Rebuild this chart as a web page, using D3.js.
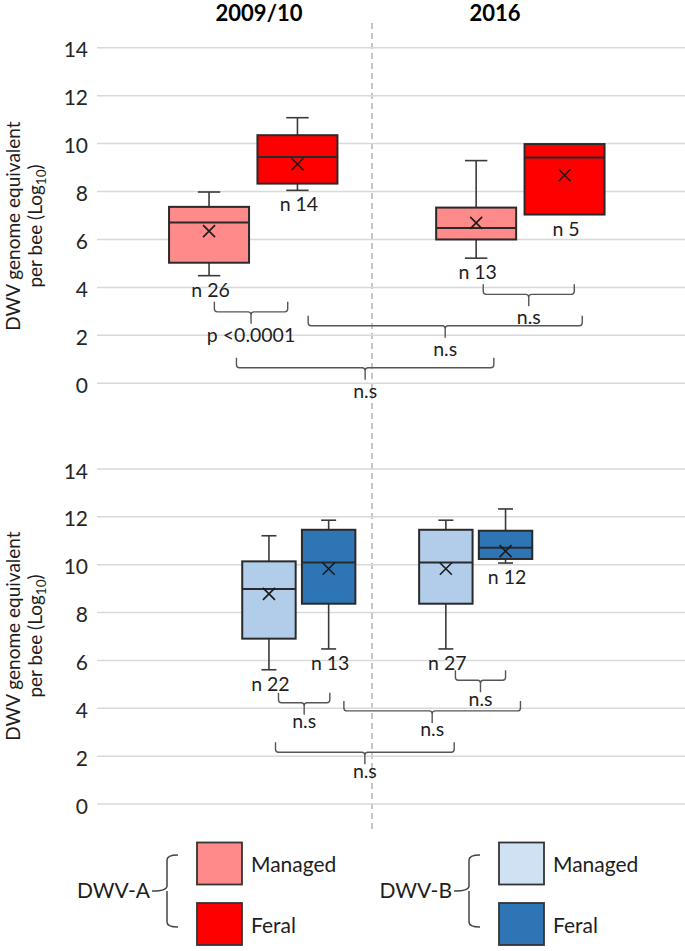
<!DOCTYPE html>
<html><head><meta charset="utf-8">
<script src="https://cdn.jsdelivr.net/npm/d3@7"></script>
<style>
body{margin:0;background:#fff}
svg{display:block}
text{font-family:Lato,"Open Sans",sans-serif;fill:#1e1e1e}
</style>
</head><body>
<svg id="chart" width="685" height="951"></svg>
<script>
// ---------- data ----------
const periods = ["2009/10", "2016"];
const colonyTypes = ["Managed", "Feral"];
const yTicks = [0, 2, 4, 6, 8, 10, 12, 14];
// box order: 2009/10 Managed, 2009/10 Feral, 2016 Managed, 2016 Feral

// DWV-A (top panel)
const dwvA_low    = [4.49, 8.05, 5.22, 7.04];
const dwvA_q1     = [5.03, 8.33, 6.00, 7.04];
const dwvA_median = [6.71, 9.44, 6.48, 9.42];
const dwvA_q3     = [7.36, 10.35, 7.33, 9.98];
const dwvA_high   = [7.98, 11.08, 9.29, 9.98];
const dwvA_mean   = [6.35, 9.14, 6.69, 8.68];
const dwvA_n      = [26, 14, 13, 5];

// DWV-B (bottom panel)
const dwvB_low    = [5.61, 6.48, 6.48, 10.07];
const dwvB_q1     = [6.91, 8.37, 8.37, 10.24];
const dwvB_median = [8.98, 10.09, 10.09, 10.71];
const dwvB_q3     = [10.14, 11.46, 11.46, 11.42];
const dwvB_high   = [11.21, 11.86, 11.86, 12.33];
const dwvB_mean   = [8.78, 9.83, 9.83, 10.57];
const dwvB_n      = [22, 13, 27, 12];

// significance brackets: box-index span (fractional), level (log10 value), label
const dwvA_bracketFrom  = [0.06, 2.08, 1.06, 0.31];
const dwvA_bracketTo    = [0.89, 3.11, 3.20, 2.20];
const dwvA_bracketAt    = [2.98, 3.71, 2.40, 0.65];
const dwvA_bracketLabel = ["p <0.0001", "n.s", "n.s", "n.s"];

const dwvB_bracketFrom  = [2.16, 0.16, 1.13, 0.11];
const dwvB_bracketTo    = [3.00, 1.01, 3.25, 2.14];
const dwvB_bracketAt    = [5.17, 4.23, 3.89, 2.16];
const dwvB_bracketLabel = ["n.s", "n.s", "n.s", "n.s"];

const legendViruses = ["DWV-A", "DWV-B"];
const colors = {
  "DWV-A": {Managed: "#ff8a8a", Feral: "#ff0000"},
  "DWV-B": {Managed: "#b2cdea", Feral: "#2e75b6"}
};
const legendColors = {
  "DWV-A": {Managed: "#ff8a8a", Feral: "#ff0000"},
  "DWV-B": {Managed: "#cfe1f3", Feral: "#2e75b6"}
};

// ---------- layout ----------
const svg = d3.select("#chart");
const plotLeft = 97, plotRight = 685;

const panels = [
  {virus: "DWV-A", yRange: [383.3, 47.7], periodRange: [253.25, 520.35], innerHalf: 88.4, innerPad: 0.095,
   titleCenter: 226, labelGap: 18,
   low: dwvA_low, q1: dwvA_q1, median: dwvA_median, q3: dwvA_q3, high: dwvA_high, mean: dwvA_mean, n: dwvA_n,
   bFrom: dwvA_bracketFrom, bTo: dwvA_bracketTo, bAt: dwvA_bracketAt, bLabel: dwvA_bracketLabel},
  {virus: "DWV-B", yRange: [804, 469], periodRange: [298.8, 475.7], innerHalf: 59.7, innerPad: 0.105,
   titleCenter: 636, labelGap: 13.5,
   low: dwvB_low, q1: dwvB_q1, median: dwvB_median, q3: dwvB_q3, high: dwvB_high, mean: dwvB_mean, n: dwvB_n,
   bFrom: dwvB_bracketFrom, bTo: dwvB_bracketTo, bAt: dwvB_bracketAt, bLabel: dwvB_bracketLabel}
];

// dashed divider between periods
svg.append("line")
  .attr("x1", 372).attr("x2", 372).attr("y1", 23).attr("y2", 829)
  .attr("stroke", "#a8a8a8").attr("stroke-width", 1.3).attr("stroke-dasharray", "6,4");

// period titles
const titleScale = d3.scalePoint().domain(periods).range([259, 495]);
svg.selectAll(".ptitle").data(periods).join("text")
  .attr("x", d => titleScale(d)).attr("y", 20.7)
  .attr("text-anchor", "middle").attr("font-weight", 700).attr("font-size", 22)
  .style("fill", "#000").text(d => d);

panels.forEach(p => {
  const g = svg.append("g");
  const y = d3.scaleLinear().domain([0, 14]).range(p.yRange);
  const xPeriod = d3.scalePoint().domain(periods).range(p.periodRange);
  const xType = d3.scaleBand().domain(colonyTypes).range([-p.innerHalf, p.innerHalf])
    .paddingInner(p.innerPad).paddingOuter(p.innerPad / 2);
  const bw = xType.bandwidth();

  const boxes = p.low.map((v, i) => {
    const period = periods[Math.floor(i / 2)], type = colonyTypes[i % 2];
    return {period, type, low: v, q1: p.q1[i], median: p.median[i], q3: p.q3[i], high: p.high[i],
            mean: p.mean[i], n: p.n[i],
            cx: xPeriod(period) + xType(type) + bw / 2};
  });
  const xIdx = d3.scaleLinear().domain(boxes.map((d, i) => i)).range(boxes.map(d => d.cx));

  // gridlines
  g.selectAll(".grid").data(yTicks).join("line")
    .attr("x1", plotLeft).attr("x2", plotRight)
    .attr("y1", d => y(d)).attr("y2", d => y(d))
    .attr("stroke", "#d9d9d9").attr("stroke-width", 1.5);

  // tick labels
  g.selectAll(".tick").data(yTicks).join("text")
    .attr("x", 88).attr("y", d => y(d) + 9.5)
    .attr("text-anchor", "end").attr("font-size", 21)
    .style("fill", "#262626").text(d => d);

  // y-axis title
  const tt = g.append("g").attr("transform", `translate(0,${p.titleCenter}) rotate(-90)`);
  tt.append("text").attr("x", 0).attr("y", 19.5).attr("text-anchor", "middle")
    .attr("font-size", 19).text("DWV genome equivalent");
  const t2 = tt.append("text").attr("x", 0).attr("y", 42).attr("text-anchor", "middle").attr("font-size", 19);
  t2.append("tspan").text("per bee (Log");
  t2.append("tspan").attr("font-size", 13.5).attr("dy", 4).text("10");
  t2.append("tspan").attr("dy", -4).text(")");

  const capW = bw * 0.28;
  const bg = g.selectAll(".box").data(boxes).join("g");
  // whiskers
  bg.append("line").attr("x1", d => d.cx).attr("x2", d => d.cx)
    .attr("y1", d => y(d.high)).attr("y2", d => y(d.q3))
    .attr("stroke", "#3a3a3a").attr("stroke-width", 1.6);
  bg.append("line").attr("x1", d => d.cx).attr("x2", d => d.cx)
    .attr("y1", d => y(d.low)).attr("y2", d => y(d.q1))
    .attr("stroke", "#3a3a3a").attr("stroke-width", 1.6);
  bg.filter(d => d.high > d.q3).append("line")
    .attr("x1", d => d.cx - capW / 2).attr("x2", d => d.cx + capW / 2)
    .attr("y1", d => y(d.high)).attr("y2", d => y(d.high))
    .attr("stroke", "#3a3a3a").attr("stroke-width", 1.6);
  bg.filter(d => d.low < d.q1).append("line")
    .attr("x1", d => d.cx - capW / 2).attr("x2", d => d.cx + capW / 2)
    .attr("y1", d => y(d.low)).attr("y2", d => y(d.low))
    .attr("stroke", "#3a3a3a").attr("stroke-width", 1.6);
  // box
  bg.append("rect")
    .attr("x", d => d.cx - bw / 2).attr("width", bw)
    .attr("y", d => y(d.q3)).attr("height", d => y(d.q1) - y(d.q3))
    .attr("fill", d => colors[p.virus][d.type])
    .attr("stroke", "#2a2a2a").attr("stroke-width", 2);
  // median
  bg.append("line")
    .attr("x1", d => d.cx - bw / 2).attr("x2", d => d.cx + bw / 2)
    .attr("y1", d => y(d.median)).attr("y2", d => y(d.median))
    .attr("stroke", "#2a2a2a").attr("stroke-width", 2);
  // mean marker
  const mk = 6;
  bg.append("path")
    .attr("d", d => `M${d.cx - mk},${y(d.mean) - mk}L${d.cx + mk},${y(d.mean) + mk}M${d.cx - mk},${y(d.mean) + mk}L${d.cx + mk},${y(d.mean) - mk}`)
    .attr("stroke", "#1a1a1a").attr("stroke-width", 1.6).attr("fill", "none");
  // n labels
  bg.append("text")
    .attr("x", d => d.cx + 1.5).attr("y", d => y(d.low) + 21)
    .attr("text-anchor", "middle").attr("font-size", 19.5)
    .text(d => "n " + d.n);

  // brackets
  const arm = 10, tick = 12, r = 3;
  p.bAt.forEach((lvl, i) => {
    const x1 = xIdx(p.bFrom[i]), x2 = xIdx(p.bTo[i]), xc = (x1 + x2) / 2, yy = y(lvl);
    const path = `M${x1},${yy - arm}V${yy - r}Q${x1},${yy} ${x1 + r},${yy}H${xc - r}Q${xc},${yy} ${xc},${yy + r}V${yy + tick}` +
                 `M${xc},${yy + r}Q${xc},${yy} ${xc + r},${yy}H${x2 - r}Q${x2},${yy} ${x2},${yy - r}V${yy - arm}`;
    g.append("path").attr("d", path).attr("fill", "none").attr("stroke", "#555").attr("stroke-width", 1.4);
    g.append("text").attr("x", xc).attr("y", yy + tick + p.labelGap)
      .attr("text-anchor", "middle").attr("font-size", 19.5).text(p.bLabel[i]);
  });
});

// ---------- legend ----------
const legX = d3.scalePoint().domain(legendViruses).range([0, 302]);
const legRow = d3.scalePoint().domain(colonyTypes).range([842.5, 903]);
legendViruses.forEach(v => {
  const ox = legX(v);
  const lg = svg.append("g").attr("transform", `translate(${ox},0)`);
  lg.append("text").attr("x", 150).attr("y", 898).attr("text-anchor", "end")
    .attr("font-size", 21).text(v);
  const top = 855, bot = 927, mid = 891, xv = 167, xr = 178, xl = 152, rr = 5;
  lg.append("path")
    .attr("d", `M${xr},${top}Q${xv},${top} ${xv},${top + rr}V${mid - rr}Q${xv},${mid} ${xl},${mid}` +
               `M${xv - 0.01},${mid}Q${xv},${mid} ${xv},${mid + rr}V${bot - rr}Q${xv},${bot} ${xr},${bot}`)
    .attr("fill", "none").attr("stroke", "#444").attr("stroke-width", 1.5);
  colonyTypes.forEach(t => {
    const yy = legRow(t);
    lg.append("rect").attr("x", 197).attr("y", yy).attr("width", 45).attr("height", 42)
      .attr("fill", legendColors[v][t]).attr("stroke", "#333").attr("stroke-width", 1.8);
    lg.append("text").attr("x", 251).attr("y", yy + (t === "Managed" ? 29 : 30))
      .attr("font-size", 21).text(t);
  });
});
</script>
</body></html>
